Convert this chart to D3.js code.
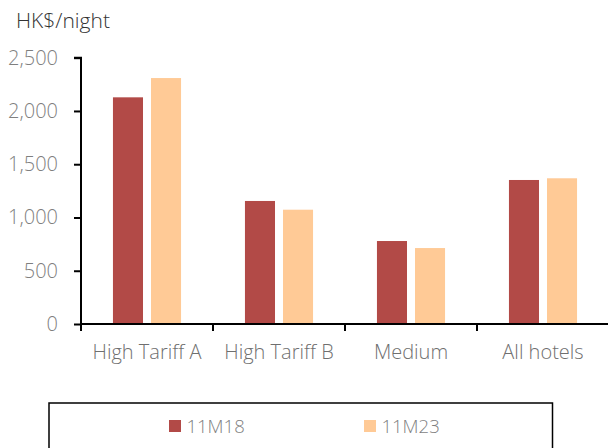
<!DOCTYPE html>
<html>
<head>
<meta charset="utf-8">
<script src="https://cdn.jsdelivr.net/npm/d3@7"></script>
<style>
  html, body { margin: 0; padding: 0; background: #fff; }
  svg { display: block; font-family: "Open Sans", sans-serif; font-weight: 300; }
</style>
</head>
<body>
<svg id="chart" width="608" height="448"></svg>
<script>
// Average hotel room rates by tariff class
const categories = ["High Tariff A", "High Tariff B", "Medium", "All hotels"];
const seriesNames = ["11M18", "11M23"];
const values11M18 = [2128, 1155, 779, 1352];
const values11M23 = [2309, 1073, 713, 1368];
const yTicks = [0, 500, 1000, 1500, 2000, 2500];
const colors = ["#B24A47", "#FFCA96"];

const svg = d3.select("#chart");
const W = 608;
const x0 = 81, x1 = 609, yTop = 57.7, yBase = 324;
const fontSize = "20px";

const x = d3.scaleBand().domain(categories).range([x0, x1]);
const xs = d3.scaleBand().domain(seriesNames).range([0, x.bandwidth()])
  .paddingInner(0.21).paddingOuter(0.84);
const y = d3.scaleLinear().domain([0, 2500]).range([yBase, yTop]);

const rows = categories.map((c, i) => ({ cat: c, vals: [values11M18[i], values11M23[i]] }));

// bars
const g = svg.append("g");
rows.forEach(r => {
  r.vals.forEach((v, j) => {
    g.append("rect")
      .attr("x", x(r.cat) + xs(seriesNames[j]))
      .attr("y", y(v))
      .attr("width", xs.bandwidth())
      .attr("height", yBase - y(v))
      .attr("fill", colors[j]);
  });
});

// y axis
const yAxis = d3.axisLeft(y).tickValues(yTicks).tickSize(7).tickPadding(16)
  .tickFormat(d3.format(","));
const yg = svg.append("g").attr("transform", `translate(${x0},0)`).call(yAxis);
yg.select(".domain").attr("stroke", "#000").attr("stroke-width", 2).attr("d", `M-7,${yTop}H0V${yBase}`);
yg.selectAll(".tick line").attr("stroke", "#000").attr("stroke-width", 2);
yg.selectAll(".tick text").attr("fill", "#7f7f7f").style("font-size", fontSize)
  .style("font-family", "'Open Sans', sans-serif").style("font-weight", 300);

// x axis
const xAxis = d3.axisBottom(x).tickSize(0).tickPadding(21);
const xg = svg.append("g").attr("transform", `translate(0,${yBase})`).call(xAxis);
xg.select(".domain").attr("stroke", "#000").attr("stroke-width", 2).attr("d", `M${x0},0H${W}`);
xg.selectAll(".tick text").attr("fill", "#6f6f6f").style("font-size", fontSize)
  .style("font-family", "'Open Sans', sans-serif").style("font-weight", 300);
// category separator ticks
const bounds = categories.map(c => x(c)).concat([x(categories[3]) + x.bandwidth()]);
xg.selectAll(".sep").data(bounds).enter().append("line")
  .attr("x1", d => d).attr("x2", d => d).attr("y1", 0).attr("y2", 7)
  .attr("stroke", "#000").attr("stroke-width", 2);

// unit label
svg.append("text").attr("x", 16).attr("y", 28).text("HK$/night")
  .attr("fill", "#333").style("font-size", "21px");

// legend
svg.append("rect").attr("x", 49).attr("y", 403).attr("width", 503.5).attr("height", 60)
  .attr("fill", "none").attr("stroke", "#000").attr("stroke-width", 1.5);
const legendX = [169, 364];
seriesNames.forEach((s, j) => {
  svg.append("rect").attr("x", legendX[j]).attr("y", 420).attr("width", 12).attr("height", 12)
    .attr("fill", colors[j]);
  svg.append("text").attr("x", legendX[j] + 17.5).attr("y", 433).text(s)
    .attr("fill", "#7f7f7f").style("font-size", "18.5px");
});
</script>
</body>
</html>
